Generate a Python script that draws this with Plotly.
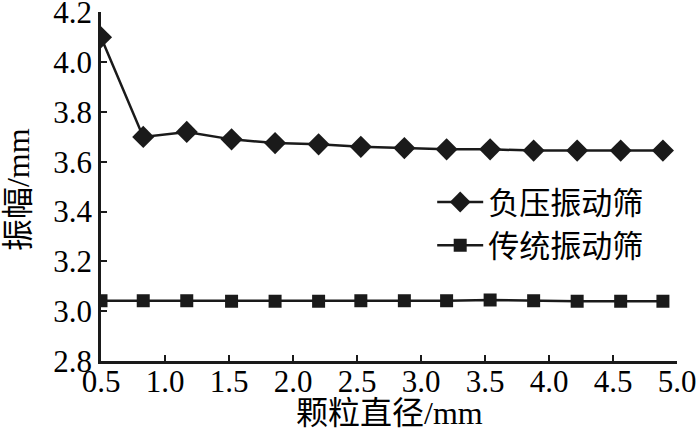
import plotly.graph_objects as go

x_vals = [0.5, 0.83, 1.17, 1.52, 1.86, 2.2, 2.53, 2.87, 3.2, 3.54, 3.88, 4.22, 4.56, 4.89]
neg_pressure = [4.10, 3.70, 3.72, 3.69, 3.675, 3.67, 3.66, 3.655, 3.65, 3.65, 3.645, 3.645, 3.645, 3.645]
traditional = [3.042, 3.042, 3.042, 3.04, 3.04, 3.04, 3.042, 3.042, 3.042, 3.045, 3.042, 3.04, 3.04, 3.04]
x_ticks = [0.5, 1.0, 1.5, 2.0, 2.5, 3.0, 3.5, 4.0, 4.5, 5.0]
y_ticks = [2.8, 3.0, 3.2, 3.4, 3.6, 3.8, 4.0, 4.2]
names = ["负压振动筛", "传统振动筛"]
x_title = "颗粒直径/mm"
y_title = "振幅/mm"

FONT = "Liberation Serif, Noto Sans CJK SC"
INK = "#1a1a1a"
FS_TICK = 31
FS_TITLE = 32
FS_LEG = 31

fig = go.Figure()
fig.add_trace(go.Scatter(
    x=x_vals, y=neg_pressure, name=names[0], mode="lines+markers",
    line=dict(color=INK, width=2.5),
    marker=dict(symbol="diamond", size=17, color=INK),
))
fig.add_trace(go.Scatter(
    x=x_vals, y=traditional, name=names[1], mode="lines+markers",
    line=dict(color=INK, width=2.5),
    marker=dict(symbol="square", size=13, color=INK),
))

fig.update_layout(
    template="none",
    width=700, height=434,
    margin=dict(l=101, r=23, t=12, b=73, autoexpand=False),
    paper_bgcolor="white", plot_bgcolor="white",
    font=dict(family=FONT, size=FS_TICK, color="black"),
    showlegend=True,
    legend=dict(x=0.575, y=0.393, xanchor="left", yanchor="middle",
                bgcolor="rgba(0,0,0,0)", font=dict(family=FONT, size=FS_LEG),
                itemwidth=46, tracegroupgap=0),
    xaxis=dict(
        range=[0.5, 5.0], tickvals=x_ticks, ticktext=[f"{v:.1f}" for v in x_ticks],
        ticks="inside", ticklen=6, tickwidth=2, tickcolor=INK,
        showline=True, linewidth=2.5, linecolor=INK, showgrid=False, zeroline=False,
        tickfont=dict(family=FONT, size=FS_TICK), automargin=False,
        ticklabeloverflow="allow", ticklabelstandoff=-9,
    ),
    yaxis=dict(
        range=[2.8, 4.2015], tickvals=y_ticks, ticktext=[f"{v:.1f}" for v in y_ticks],
        ticks="inside", ticklen=6, tickwidth=2, tickcolor=INK,
        showline=True, linewidth=2.5, linecolor=INK, showgrid=False, zeroline=False,
        tickfont=dict(family=FONT, size=FS_TICK), automargin=False,
        ticklabeloverflow="allow",
    ),
    annotations=[
        dict(text=x_title, xref="paper", yref="paper", x=0.5, y=-0.148,
             xanchor="center", yanchor="middle", showarrow=False,
             font=dict(family=FONT, size=FS_TITLE, color="black")),
        dict(text=y_title, xref="paper", yref="paper", x=-0.144, y=0.49,
             xanchor="center", yanchor="middle", showarrow=False, textangle=-90,
             font=dict(family=FONT, size=FS_TITLE, color="black")),
    ],
)

# remove the page's default 8px body margin so the 700x434 figure fills the window
fig.write_html("out.html", config={"displayModeBar": False},
               post_script="document.body.style.margin='0';")
